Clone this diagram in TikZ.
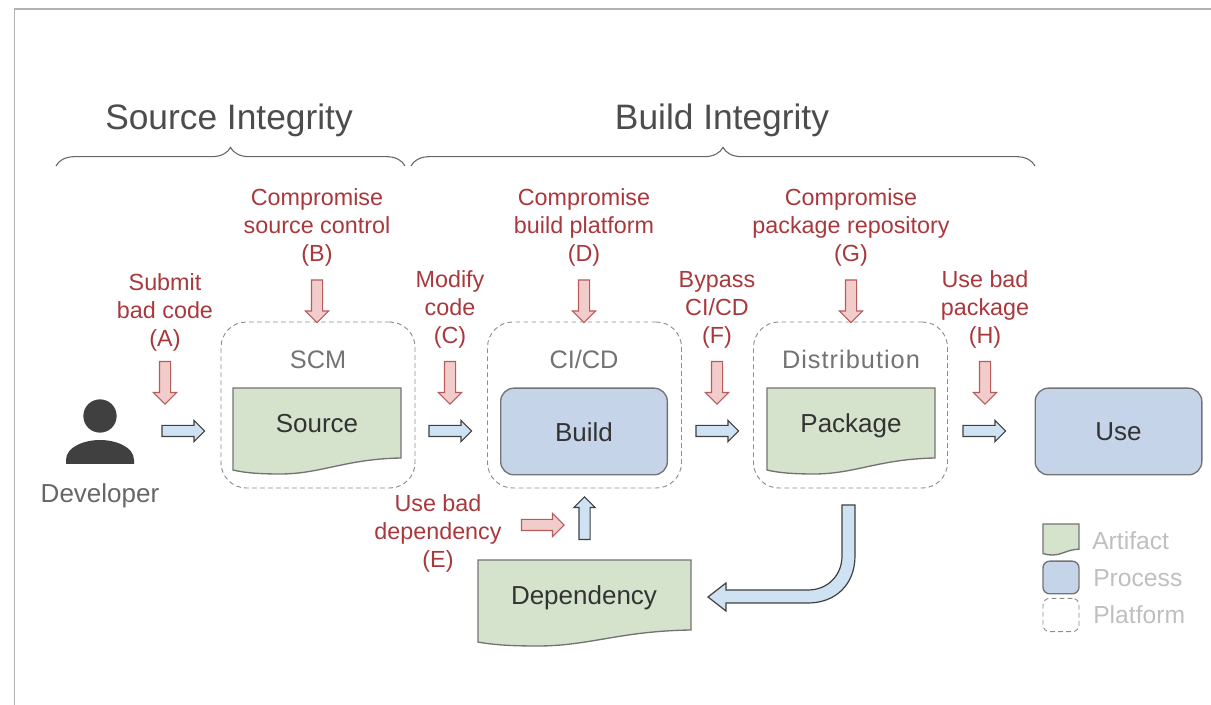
\documentclass[tikz,border=0pt]{standalone}
\usepackage{fontspec}
\setmainfont{Liberation Sans}
\newfontfamily\spacedfont[LetterSpace=4]{Liberation Sans}
\usetikzlibrary{shapes.arrows, decorations.pathreplacing}

\definecolor{artifactfill}{HTML}{D5E3CD}
\definecolor{processfill}{HTML}{C5D4E8}
\definecolor{flowfill}{HTML}{CFE2F3}
\definecolor{attackfill}{HTML}{F2CBCB}
\definecolor{attackline}{HTML}{B85B5B}
\definecolor{attacktext}{HTML}{A9383C}

\begin{document}
\begin{tikzpicture}[
		x=0.75pt, y=-0.75pt,
		artifact/.style ={draw=black!55,	fill=artifactfill,	line width=1pt},
		process/.style  ={rectangle,	rounded corners=10pt,	draw=black!55,	fill=processfill,	line width=1pt,	inner sep=0pt,	minimum width=125pt,	minimum height=65pt},
		platform/.style ={rectangle,	rounded corners=19pt,	draw=black!45,	dash pattern=on 3.5pt off 2.5pt,	line width=0.7pt,	inner sep=0pt,	minimum width=145.5pt,	minimum height=124.5pt},
		flow/.style     ={single arrow,	draw=black!75,	fill=flowfill,	line width=0.9pt,	inner xsep=0pt,	inner ysep=3.75pt,	outer sep=0pt,	minimum height=32pt,	single arrow head extend=3.75pt},
		attack/.style   ={single arrow,	draw=attackline,	fill=attackfill,	line width=0.9pt,	inner xsep=0pt,	inner ysep=3.75pt,	outer sep=0pt,	minimum height=32pt,	single arrow head extend=4.5pt},
		threat/.style   ={align=center,	text=attacktext,	inner sep=0pt,	font=\fontsize{17.5}{21}\selectfont},
		title/.style    ={text=black!70,	inner sep=0pt,	font=\fontsize{26.5}{32}\selectfont},
		boxtext/.style  ={text=black!80,	inner sep=0pt,	text height=16pt,	text depth=2.5pt,	font=\fontsize{19.5}{24}\selectfont},
		graytext/.style ={text=black!55,	inner sep=0pt,	text height=16pt,	text depth=2.5pt,	font=\fontsize{19}{24}\selectfont},
		legendtext/.style={text=black!25,	anchor=west,	inner sep=0pt,	font=\fontsize{18.5}{22}\selectfont},
	]

	\useasboundingbox (0,0) rectangle (1211,705);
	\draw [black!30,line width=0.8pt] (1211,9) -- (14.5,9) -- (14.5,705);

	% braces
	\coordinate (srcleft) at (56,166);
	\coordinate (srcright) at (405,166);
	\coordinate (bldleft) at (411,166);
	\coordinate (bldright) at (1035,166);
	\draw [black!60,line width=0.8pt,decorate,decoration={brace,amplitude=14pt,aspect=0.5}] (srcleft) -- (srcright);
	\draw [black!60,line width=0.8pt,decorate,decoration={brace,amplitude=14pt,aspect=0.5}] (bldleft) -- (bldright);
	\node [title] (srctitle) at (229,120) {Source Integrity};
	\node [title] (bldtitle) at (722,120) {Build Integrity};

	% platforms
	\foreach \nm/\px in {scm/318,cicd/584.5,dist/850.5}
		\node [platform] (\nm) at (\px,405) {};
	\node [graytext] (scmlabel) at (318,360) {SCM};
	\node [graytext] (cicdlabel) at (584,360) {CI/CD};
	\node [graytext] (distlabel) at (851,360) {\spacedfont Distribution};

	% artifacts
	\foreach \px/\py/\sx/\sy in {233/388/1/1, 767/388/1/1, 478/560/1.268/1, 1043/524/0.214/0.36}
		\draw [artifact,shift={(\px,\py)},xscale=\sx,yscale=\sy] (0,0) -- (168,0) -- (168,70)%
			.. controls (112,71) and (88,86) .. (47,86) .. controls (28,86) and (12,85) .. (0,82) -- cycle;
	\node [boxtext] (source) at (317,424) {Source};
	\node [boxtext] (package) at (851,424) {Package};
	\node [boxtext] (dependency) at (584,596) {Dependency};

	% processes
	\node [process] (build) at (584,431.5) {};
	\node [process] (use) at (1118.5,431.5) {};
	\node [boxtext] (buildlabel) at (584,433) {Build};
	\node [boxtext] (uselabel) at (1118.5,432) {Use};

	% developer
	\node [circle,fill=black!75,inner sep=0pt,minimum size=25pt] (devhead) at (100,416) {};
	\fill [black!75] (66,460) .. controls (66,447) and (84,440) .. (100,440) .. controls (116,440) and (134,447) .. (134,460)%
		-- (134,464) -- (66,464) -- cycle;
	\node [boxtext,text=black!60] (developer) at (100,494) {Developer};

	% flow arrows
	\foreach \nm/\px in {flowa/180.5,flowb/447.5,flowc/714.5,flowd/981.5}
		\node [flow] (\nm) at (\px,431) {};
	\node [flow,rotate=90] (flowdep) at (584.5,521) {};
	\coordinate (bendstart) at (842,505);
	\draw [draw=black!75,fill=flowfill,line width=0.9pt] (bendstart) -- (855,505) -- (855,556)%
		.. controls (855,585) and (835,603) .. (808,603) -- (726,603) -- (726,611) -- (708,597) -- (726,583) -- (726,590)%
		-- (808,590) .. controls (828,590) and (842,575) .. (842,556) -- cycle;

	% threat arrows
	\foreach \nm/\px/\py in {atka/165/380,atkb/317/298.5,atkc/450/380,atkd/584/298.5,atkf/717/380,atkg/851/298.5,atkh/985/380}
		\node [attack,rotate=-90] (\nm) at (\px,\py) {};
	\node [attack] (atke) at (540,525) {};

	% threat labels
	\node [threat] (lbla) at (165,312) {Submit\\bad code\\(A)};
	\node [threat] (lblb) at (317,227) {Compromise\\source control\\(B)};
	\node [threat] (lblc) at (450,309.5) {Modify\\code\\(C)};
	\node [threat] (lbld) at (584,227) {Compromise\\build platform\\(D)};
	\node [threat] (lble) at (438,533.5) {Use bad\\dependency\\(E)};
	\node [threat] (lblf) at (717,309.5) {Bypass\\CI/CD\\(F)};
	\node [threat] (lblg) at (851,227) {Compromise\\package repository\\(G)};
	\node [threat] (lblh) at (985,309.5) {Use bad\\package\\(H)};

	% legend
	\node [process,rounded corners=5pt,minimum width=27pt,minimum height=24.5pt] (legprocess) at (1061,577.5) {};
	\node [platform,rounded corners=5pt,minimum width=27pt,minimum height=25pt] (legplatform) at (1061,615) {};
	\node [legendtext] (legtexta) at (1092,541) {Artifact};
	\node [legendtext] (legtextb) at (1093,578) {Process};
	\node [legendtext] (legtextc) at (1093,615) {Platform};

\end{tikzpicture}
\end{document}
